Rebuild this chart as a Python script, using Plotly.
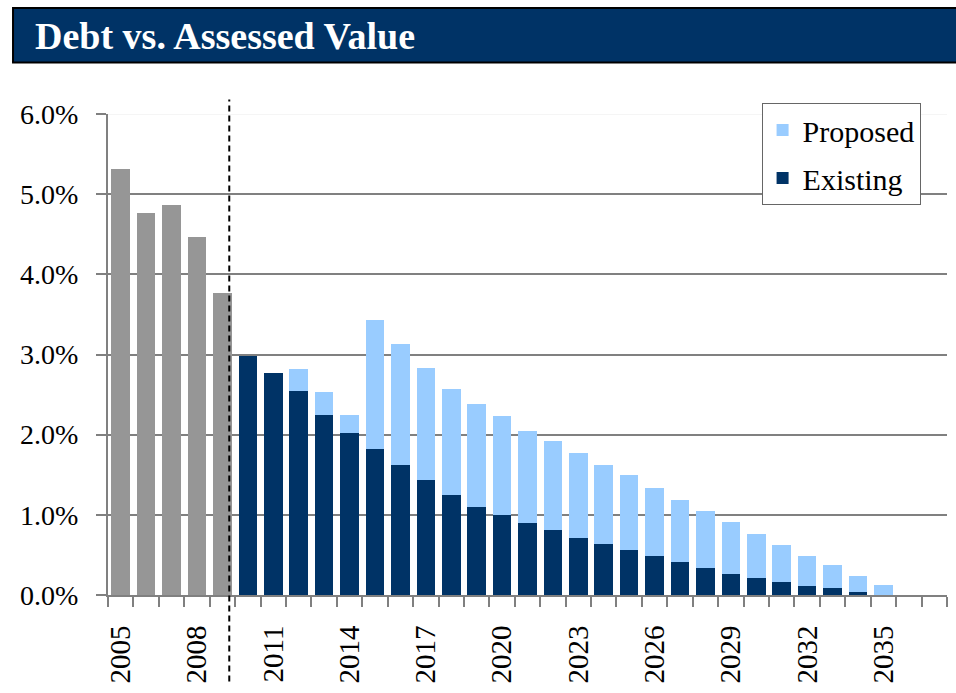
import plotly.graph_objects as go

# ---- data (percent of assessed value) ----
hist_years = [2005, 2006, 2007, 2008, 2009]
hist_values = [5.31, 4.76, 4.86, 4.47, 3.77]

proj_years = list(range(2010, 2038))
existing = [2.98, 2.77, 2.54, 2.24, 2.02, 1.82, 1.62, 1.43, 1.25, 1.10,
            1.00, 0.90, 0.81, 0.71, 0.635, 0.56, 0.49, 0.41, 0.34, 0.26,
            0.21, 0.165, 0.115, 0.09, 0.04, 0.0, 0.0, 0.0]
proposed = [0.0, 0.0, 0.28, 0.29, 0.22, 1.61, 1.51, 1.40, 1.32, 1.28,
            1.23, 1.14, 1.11, 1.06, 0.985, 0.94, 0.85, 0.77, 0.71, 0.65,
            0.55, 0.465, 0.375, 0.285, 0.20, 0.13, 0.0, 0.0]

label_years = list(range(2005, 2036, 3))
y_ticks = [0, 1, 2, 3, 4, 5, 6]
divider_x = 2009.27

FONT = "Liberation Serif, Times New Roman, serif"
NAVY = "#003366"
LIGHT = "#99CCFF"
GRAY = "#969696"
AXIS = "#808080"

fig = go.Figure()
fig.add_trace(go.Bar(x=hist_years, y=hist_values, marker_color=GRAY,
                     marker_line_width=0, showlegend=False, name="Historical"))
fig.add_trace(go.Bar(x=proj_years, y=existing, marker_color=NAVY,
                     marker_line_width=0, name="Existing", legendrank=2,
                     legendgroup="e"))
fig.add_trace(go.Bar(x=proj_years, y=proposed, marker_color=LIGHT,
                     marker_line_width=0, name="Proposed", legendrank=1,
                     legendgroup="p"))

# title banner
fig.add_shape(type="rect", xref="paper", yref="paper",
              x0=-0.1132, x1=1.02, y0=1.107, y1=1.2206,
              fillcolor=NAVY, line=dict(color="black", width=2), layer="below")
# faint top border line at 6%
fig.add_shape(type="line", xref="paper", yref="y", x0=0, x1=1, y0=6, y1=6,
              line=dict(color="#EBEBEB", width=1), layer="below")
# dashed divider between actual and projected
fig.add_shape(type="line", xref="x", yref="paper", x0=divider_x, x1=divider_x,
              y0=-0.18, y1=1.03, line=dict(color="black", width=2, dash="6px,4px"))

fig.update_layout(
    width=956, height=693,
    margin=dict(l=108, r=9, t=114, b=94),
    paper_bgcolor="white", plot_bgcolor="white",
    barmode="stack", bargap=0.27,
    font=dict(family=FONT, color="black", size=28),
    title=dict(text="<b>Debt vs. Assessed Value</b>", x=35 / 956, xanchor="left",
               xref="container", y=1 - 36 / 693, yanchor="middle", yref="container",
               font=dict(family=FONT, size=38, color="white")),
    legend=dict(x=0.779, xanchor="left", y=1.0227, yanchor="top",
                bordercolor="#666666", borderwidth=1, bgcolor="white",
                font=dict(family=FONT, size=30, color="black"),
                tracegroupgap=6),
    xaxis=dict(type="linear", range=[2004.5, 2037.5],
               tickvals=label_years, ticktext=[str(y) for y in label_years],
               tickangle=-90, ticks="", ticklabelstandoff=17,
               tickfont=dict(family=FONT, size=29),
               showgrid=False, zeroline=False,
               showline=True, linecolor=AXIS, linewidth=2,
               minor=dict(tickvals=[y - 0.5 for y in range(2005, 2039)],
                          ticks="outside", ticklen=10, tickcolor=AXIS,
                          tickwidth=1.5, showgrid=False)),
    yaxis=dict(range=[0, 6], tickvals=y_ticks,
               ticktext=[f"{v:.1f}%" for v in y_ticks],
               ticks="outside", ticklen=10, tickcolor=AXIS, tickwidth=1.5,
               ticklabelstandoff=12,
               tickfont=dict(family=FONT, size=28),
               showgrid=False, zeroline=False,
               showline=True, linecolor=AXIS, linewidth=2,
               minor=dict(tickvals=[1, 2, 3, 4, 5], showgrid=True,
                          gridcolor=AXIS, gridwidth=1.5, ticks="")),
)

fig.write_html("out.html", config={"displayModeBar": False},
               post_script="document.body.style.margin='0px';document.body.style.overflow='hidden';")
